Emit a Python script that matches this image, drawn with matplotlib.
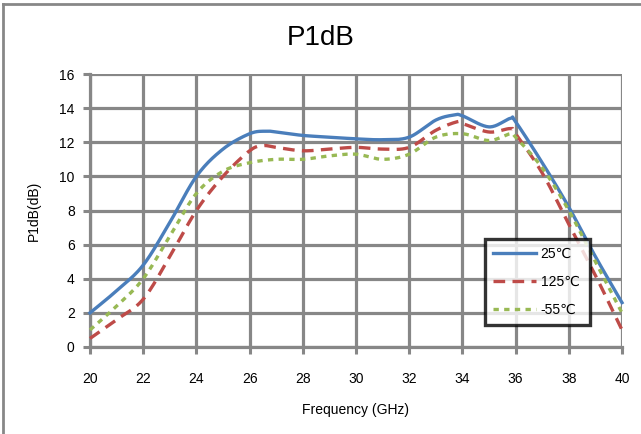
import numpy as np
import matplotlib
matplotlib.use("Agg")
import matplotlib.pyplot as plt
from matplotlib.lines import Line2D

plt.rcParams['font.family'] = ['Liberation Sans', 'DejaVu Sans']

# Data
x_25 = [20, 21, 22, 23, 24, 25, 26, 26.6, 27, 28, 29, 30, 31, 32, 33, 33.7, 34, 35, 35.8, 36, 37, 38, 39, 40]
y_25 = [2.0, 3.3, 4.8, 7.3, 10.0, 11.6, 12.5, 12.65, 12.6, 12.4, 12.3, 12.2, 12.15, 12.3, 13.3, 13.6, 13.55, 12.9, 13.4, 13.2, 10.8, 8.2, 5.3, 2.6]

x_125 = [20, 21, 22, 23, 24, 25, 26, 26.5, 27, 28, 29, 30, 31, 32, 33, 33.8, 34, 35, 35.8, 36, 37, 38, 39, 40]
y_125 = [0.5, 1.6, 2.8, 5.3, 8.0, 10.0, 11.5, 11.8, 11.7, 11.5, 11.6, 11.7, 11.6, 11.7, 12.7, 13.2, 13.1, 12.6, 12.8, 12.5, 10.2, 7.2, 4.2, 1.0]

x_m55 = [20, 21, 22, 23, 24, 25, 26, 27, 28, 29, 30, 31, 32, 33, 34, 35, 35.8, 36, 37, 38, 39, 40]
y_m55 = [1.0, 2.4, 4.0, 6.5, 9.0, 10.3, 10.8, 11.0, 11.0, 11.2, 11.3, 11.0, 11.3, 12.3, 12.5, 12.1, 12.5, 12.3, 10.5, 8.0, 5.0, 2.0]

labels = ['25\u2103', '125\u2103', '-55\u2103']
colors = ['#4A7EBB', '#BE4B48', '#98B954']
x_ticks = [20, 22, 24, 26, 28, 30, 32, 34, 36, 38, 40]
y_ticks = [0, 2, 4, 6, 8, 10, 12, 14, 16]


def smooth(xs, ys, n=20):
    # Catmull-Rom style smoothing (like Excel's smoothed lines)
    xs = np.asarray(xs, float); ys = np.asarray(ys, float)
    px = np.concatenate([[2*xs[0]-xs[1]], xs, [2*xs[-1]-xs[-2]]])
    py = np.concatenate([[2*ys[0]-ys[1]], ys, [2*ys[-1]-ys[-2]]])
    ox, oy = [], []
    for i in range(1, len(px)-2):
        t = np.linspace(0, 1, n, endpoint=False)
        for p, out in ((px, ox), (py, oy)):
            p0, p1, p2, p3 = p[i-1], p[i], p[i+1], p[i+2]
            out.extend(0.5*((2*p1) + (-p0+p2)*t + (2*p0-5*p1+4*p2-p3)*t**2 + (-p0+3*p1-3*p2+p3)*t**3))
    ox.append(xs[-1]); oy.append(ys[-1])
    return np.array(ox), np.array(oy)


fig = plt.figure(figsize=(6.41, 4.34), dpi=100)
ax = fig.add_axes([90/641, 87/434, 532/641, 273/434])

styles = [dict(ls='-'), dict(ls=(0, (3.5, 2.2))), dict(ls=(0, (1.6, 1.6)))]
for (xs, ys), c, st, lab in zip([(x_25, y_25), (x_125, y_125), (x_m55, y_m55)], colors, styles, labels):
    sx, sy = smooth(xs, ys)
    ax.plot(sx, sy, color=c, lw=2.4, label=lab, zorder=3, clip_on=False, **st)

ax.set_xlim(20, 40)
ax.set_ylim(0, 16)
ax.set_xticks(x_ticks)
ax.set_yticks(y_ticks)
ax.grid(True, color='#878787', lw=2.3)
ax.set_axisbelow(True)
for s in ['top', 'right']:
    ax.spines[s].set_visible(False)
for s in ['left', 'bottom']:
    ax.spines[s].set_color('#878787')
    ax.spines[s].set_linewidth(2.3)
ax.tick_params(axis='both', colors='#878787', length=5, width=2.2, labelcolor='black', labelsize=10)
ax.tick_params(axis='x', pad=13)
ax.tick_params(axis='y', pad=6)
ax.set_xlabel('Frequency (GHz)', fontsize=10, labelpad=12)
ax.set_ylabel('P1dB(dB)', fontsize=10, labelpad=13)
fig.text(0.5, 0.912, 'P1dB', ha='center', va='center', fontsize=20)

leg = ax.legend(loc='lower left', bbox_to_anchor=((485-90)/532, (347-325)/273, 105/532, 88/273),
                mode='expand', frameon=True, fancybox=False, fontsize=10,
                handlelength=3.1, labelspacing=1.0, borderpad=0.6, handletextpad=0.3, borderaxespad=0)
leg.get_frame().set_edgecolor('black')
leg.get_frame().set_linewidth(2.4)
leg.set_zorder(5)

# figure border (left and top)
fig.add_artist(Line2D([3/641, 3/641], [0, 1-4/434], transform=fig.transFigure, color='#878787', lw=2))
fig.add_artist(Line2D([3/641, 1], [1-4/434, 1-4/434], transform=fig.transFigure, color='#878787', lw=2))

fig.savefig('out.png', dpi=100)
